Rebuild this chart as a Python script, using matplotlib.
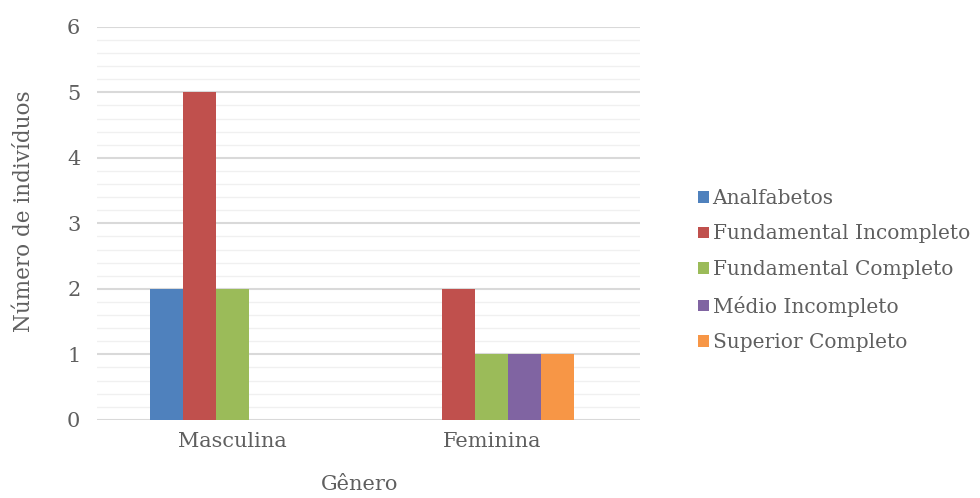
import numpy as np
import matplotlib
matplotlib.use("Agg")
import matplotlib.pyplot as plt
from matplotlib.ticker import MultipleLocator

generos = ["Masculina", "Feminina"]
series = ["Analfabetos", "Fundamental Incompleto", "Fundamental Completo",
          "Médio Incompleto", "Superior Completo"]
valores = [
    [2, 0],  # Analfabetos
    [5, 2],  # Fundamental Incompleto
    [2, 1],  # Fundamental Completo
    [0, 1],  # Médio Incompleto
    [0, 1],  # Superior Completo
]
cores = ["#4F81BD", "#C0504D", "#9BBB59", "#8064A2", "#F79646"]

plt.rcParams["font.family"] = ["DejaVu Serif"]
texto = "#5f5f5f"

fig = plt.figure(figsize=(9.8, 4.98), dpi=100)
ax = fig.add_axes([0.099, 0.157, 0.554, 0.789])

x = np.arange(len(generos))
w = 0.127
for i, (nome, vals) in enumerate(zip(series, valores)):
    ax.bar(x + (i - 2) * w, vals, width=w, color=cores[i], label=nome, zorder=3)

ax.set_ylim(0, 6)
ax.set_xlim(-0.52, 1.57)
ax.yaxis.set_major_locator(MultipleLocator(1))
ax.yaxis.set_minor_locator(MultipleLocator(0.2))
ax.grid(axis="y", which="major", color="#d9d9d9", linewidth=1.5, zorder=0)
ax.grid(axis="y", which="minor", color="#f0f0f0", linewidth=1.0, zorder=0)
ax.set_xticks(x)
ax.set_xticklabels(generos)
ax.tick_params(axis="x", length=0, labelsize=15, colors=texto, pad=9)
ax.tick_params(axis="y", length=0, labelsize=15, colors=texto, pad=12)
ax.tick_params(which="minor", length=0)
for s in ax.spines.values():
    s.set_visible(False)

ax.set_ylabel("Número de indivíduos", fontsize=15.5, color=texto)
ax.yaxis.set_label_coords(-0.115, 0.532)
ax.set_xlabel("Gênero", fontsize=15, color=texto)
ax.xaxis.set_label_coords(0.484, -0.14)

ax.legend(loc="center left", bbox_to_anchor=(1.093, 0.38), frameon=False,
          fontsize=14.5, labelcolor=texto, handlelength=0.5, handleheight=0.5,
          handletextpad=0.2, labelspacing=0.82, borderaxespad=0)

fig.savefig("out.png", dpi=100)
